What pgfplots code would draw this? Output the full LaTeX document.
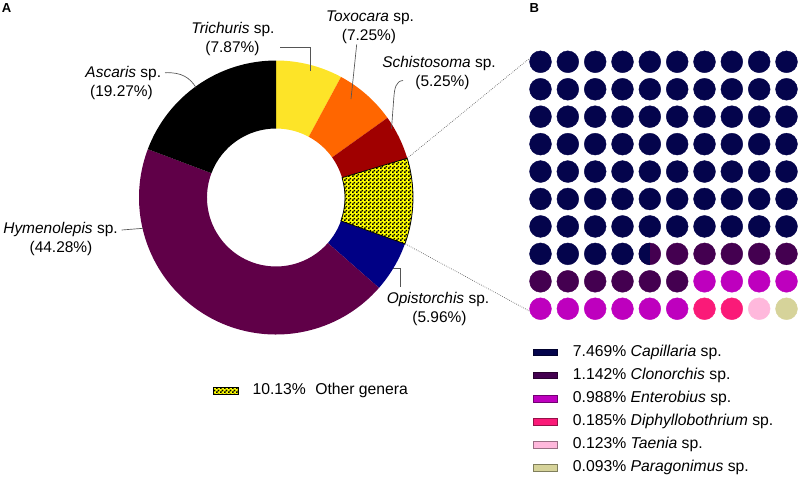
\documentclass[border=0pt]{standalone}
\usepackage{fontspec}
\setmainfont{Liberation Sans}
\usepackage{pgfplots}
\pgfplotsset{compat=1.18}
\usetikzlibrary{patterns}

\definecolor{trich}{HTML}{FDE428}
\definecolor{toxo}{HTML}{FF6600}
\definecolor{schisto}{HTML}{A00000}
\definecolor{othy}{HTML}{FFFF00}
\definecolor{opist}{HTML}{000085}
\definecolor{hymen}{HTML}{600048}
\definecolor{ascar}{HTML}{000000}
\definecolor{capil}{HTML}{04044C}
\definecolor{clon}{HTML}{440050}
\definecolor{entero}{HTML}{BE00BE}
\definecolor{diphyl}{HTML}{FA1A78}
\definecolor{taenia}{HTML}{FFB8DC}
\definecolor{parag}{HTML}{D6D39A}
\definecolor{leader}{HTML}{555555}

\pgfdeclarepatternformonly{finecheck}{\pgfqpoint{0pt}{0pt}}{\pgfqpoint{3pt}{3pt}}{\pgfqpoint{3pt}{3pt}}{%
  \pgfpathrectangle{\pgfqpoint{0pt}{0pt}}{\pgfqpoint{1.5pt}{1.5pt}}%
  \pgfpathrectangle{\pgfqpoint{1.5pt}{1.5pt}}{\pgfqpoint{1.5pt}{1.5pt}}%
  \pgfusepath{fill}}

\pgfdeclareplotmark{lefthalf}{%
  \pgfpathmoveto{\pgfqpoint{0pt}{\pgfplotmarksize}}%
  \pgfpatharc{90}{270}{\pgfplotmarksize}%
  \pgfpathclose
  \pgfusepathqfill}

\newcommand\lblfont{\fontsize{11.6}{13.9}\selectfont}
\newcommand\legfont{\fontsize{11.8}{14}\selectfont}

% donut segment: #1 = cumulative percent before, #2 = percent, #3 = style
\newcommand{\donutseg}[3]{%
  \fill[#3, shift={(axis cs:276,197.5)}]
    ({90-3.6*(#1)}:102.75pt)
    arc[start angle={90-3.6*(#1)}, end angle={90-3.6*(#1+#2)}, radius=102.75pt]
    -- ({90-3.6*(#1+#2)}:51.75pt)
    arc[start angle={90-3.6*(#1+#2)}, end angle={90-3.6*(#1)}, radius=51.75pt]
    -- cycle;}

\tikzset{
  lbl/.style={font=\lblfont, inner sep=0pt, text height=8.3pt, text depth=2.4pt},
  leg/.style={font=\legfont, inner sep=0pt, text height=8.45pt, text depth=2.45pt, anchor=west},
  lead/.style={draw=leader, line width=0.5pt},
  othstyle/.style={fill=othy, draw=black, line width=0.6pt, postaction={pattern=finecheck, pattern color=black}},
}
\pgfplotsset{waf/.style={only marks, mark=*, mark size=8.2pt, line width=0.3pt, color=#1, mark options={fill=#1, draw=#1}}}

\begin{document}
\begin{tikzpicture}
% ---------------- Panel A: donut ----------------
\begin{axis}[anchor=south west, at={(0,0)}, x=0.75pt, y=0.75pt, y dir=reverse,
  xmin=0, xmax=798, ymin=0, ymax=476, hide axis, clip=false]
  % segments clockwise from 12 o'clock (percent values)
  \donutseg{0}{7.87}{trich}      % Trichuris
  \donutseg{7.87}{7.25}{toxo}    % Toxocara
  \donutseg{15.12}{5.25}{schisto}% Schistosoma
  \donutseg{30.50}{5.96}{opist}  % Opistorchis
  \donutseg{36.46}{44.28}{hymen} % Hymenolepis
  \donutseg{80.74}{19.27}{ascar} % Ascaris
  \donutseg{20.37}{10.13}{othstyle} % Other genera

  % labels
  \node[lbl] at (axis cs:233,30) {\textit{Trichuris} sp.};
  \node[lbl] at (axis cs:232.5,48.5) {(7.87\%)};
  \node[lbl] at (axis cs:370,17.3) {\textit{Toxocara} sp.};
  \node[lbl] at (axis cs:369,36.5) {(7.25\%)};
  \node[lbl] at (axis cs:439,63.3) {\textit{Schistosoma} sp.};
  \node[lbl] at (axis cs:442.5,82.7) {(5.25\%)};
  \node[lbl] at (axis cs:123.3,74) {\textit{Ascaris} sp.};
  \node[lbl] at (axis cs:121.5,93) {(19.27\%)};
  \node[lbl] at (axis cs:60.5,230) {\textit{Hymenolepis} sp.};
  \node[lbl] at (axis cs:61,248.5) {(44.28\%)};
  \node[lbl] at (axis cs:438,299.3) {\textit{Opistorchis} sp.};
  \node[lbl] at (axis cs:439.5,318.3) {(5.96\%)};

  % leader lines
  \draw[lead] (axis cs:280,47.3) -- (axis cs:310.7,47.3) -- (axis cs:310.7,70.5);
  \draw[lead] (axis cs:356.7,44.3) -- (axis cs:351,99);
  \draw[lead] (axis cs:403,80.5) .. controls (axis cs:396,81) and (axis cs:394.5,88) .. (axis cs:393.8,98) -- (axis cs:391.5,128.5);
  \draw[lead] (axis cs:165,72.7) .. controls (axis cs:182,72) and (axis cs:190,78) .. (axis cs:196,87.5);
  \draw[lead] (axis cs:121.7,230) -- (axis cs:143,228.3);
  \draw[lead] (axis cs:393,268.5) -- (axis cs:400,268.5) -- (axis cs:400,287);

  % zoom connector lines
  \draw[leader, line width=0.5pt, densely dotted] (axis cs:407.2,158.2) -- (axis cs:529.3,58.5);
  \draw[leader, line width=0.5pt, densely dotted] (axis cs:405.5,244) -- (axis cs:529.3,311);

  % legend A
  \fill[othstyle] (axis cs:213.3,387.3) rectangle (axis cs:238.3,394);
  \node[leg] at (axis cs:252.3,390.7) {10.13\%};
  \node[leg] at (axis cs:315,390.7) {Other genera};

  % legend B
  \fill[capil, draw=capil!60!black, line width=0.4pt] (axis cs:533.3,348.9) rectangle (axis cs:557.7,355.7);
  \node[leg] at (axis cs:572.7,352.3) {7.469\% \textit{Capillaria} sp.};
  \fill[clon, draw=clon!60!black, line width=0.4pt] (axis cs:533.3,371.9) rectangle (axis cs:557.7,378.7);
  \node[leg] at (axis cs:572.7,375.3) {1.142\% \textit{Clonorchis} sp.};
  \fill[entero, draw=entero!60!black, line width=0.4pt] (axis cs:533.3,395.0) rectangle (axis cs:557.7,401.8);
  \node[leg] at (axis cs:572.7,398.4) {0.988\% \textit{Enterobius} sp.};
  \fill[diphyl, draw=diphyl!60!black, line width=0.4pt] (axis cs:533.3,418.1) rectangle (axis cs:557.7,424.9);
  \node[leg] at (axis cs:572.7,421.5) {0.185\% \textit{Diphyllobothrium} sp.};
  \fill[taenia, draw=taenia!60!black, line width=0.4pt] (axis cs:533.3,441.2) rectangle (axis cs:557.7,448.0);
  \node[leg] at (axis cs:572.7,444.6) {0.123\% \textit{Taenia} sp.};
  \fill[parag, draw=parag!60!black, line width=0.4pt] (axis cs:533.3,464.3) rectangle (axis cs:557.7,471.1);
  \node[leg] at (axis cs:572.7,467.7) {0.093\% \textit{Paragonimus} sp.};

  % panel letters
  \node[anchor=north west, inner sep=0pt, font=\bfseries\fontsize{9.8}{11}\selectfont, text height=7pt, text depth=0pt] at (axis cs:1.5,2.7) {A};
  \node[anchor=north west, inner sep=0pt, font=\bfseries\fontsize{9.8}{11}\selectfont, text height=7pt, text depth=0pt] at (axis cs:529.3,2.7) {B};
\end{axis}

% ---------------- Panel B: waffle ----------------
\begin{axis}[anchor=north west, at={(405.375pt,310.65pt)}, x=20.5pt, y=20.58pt, y dir=reverse,
  xmin=1, xmax=10, ymin=1, ymax=10, hide axis, clip=false]
  % Capillaria (74.5 dots)
  \addplot[waf=capil] coordinates {
    (1,1) (2,1) (3,1) (4,1) (5,1) (6,1) (7,1) (8,1) (9,1) (10,1)
    (1,2) (2,2) (3,2) (4,2) (5,2) (6,2) (7,2) (8,2) (9,2) (10,2)
    (1,3) (2,3) (3,3) (4,3) (5,3) (6,3) (7,3) (8,3) (9,3) (10,3)
    (1,4) (2,4) (3,4) (4,4) (5,4) (6,4) (7,4) (8,4) (9,4) (10,4)
    (1,5) (2,5) (3,5) (4,5) (5,5) (6,5) (7,5) (8,5) (9,5) (10,5)
    (1,6) (2,6) (3,6) (4,6) (5,6) (6,6) (7,6) (8,6) (9,6) (10,6)
    (1,7) (2,7) (3,7) (4,7) (5,7) (6,7) (7,7) (8,7) (9,7) (10,7)
    (1,8) (2,8) (3,8) (4,8)
  };
  % Clonorchis
  \addplot[waf=clon] coordinates {
    (5,8) (6,8) (7,8) (8,8) (9,8) (10,8)
    (1,9) (2,9) (3,9) (4,9) (5,9) (6,9)
  };
  % Capillaria half dot
  \addplot[only marks, mark=lefthalf, mark size=8.35pt, color=capil, mark options={fill=capil}] coordinates {(5,8)};
  % Enterobius
  \addplot[waf=entero] coordinates {
    (7,9) (8,9) (9,9) (10,9)
    (1,10) (2,10) (3,10) (4,10) (5,10) (6,10)
  };
  % Diphyllobothrium
  \addplot[waf=diphyl] coordinates {(7,10) (8,10)};
  % Taenia
  \addplot[waf=taenia] coordinates {(9,10)};
  % Paragonimus
  \addplot[waf=parag] coordinates {(10,10)};
\end{axis}

\pgfresetboundingbox
\path[use as bounding box] (0,0) rectangle (598.5pt,357pt);
\end{tikzpicture}
\end{document}
